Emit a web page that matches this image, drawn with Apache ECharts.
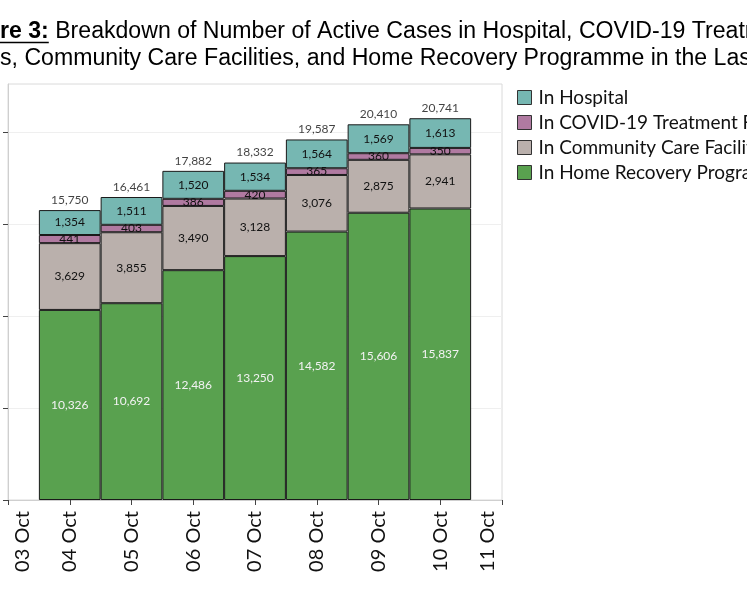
<!DOCTYPE html>
<html><head><meta charset="utf-8">
<script src="https://cdn.jsdelivr.net/npm/echarts@6/dist/echarts.min.js"></script>
<style>html,body{margin:0;padding:0;background:#fff}#c{width:747px;height:598px}</style>
</head><body><div id="c"></div>
<script>
const tickLabels = ['03 Oct','04 Oct','05 Oct','06 Oct','07 Oct','08 Oct','09 Oct','10 Oct','11 Oct'];
const dates = ['04 Oct','05 Oct','06 Oct','07 Oct','08 Oct','09 Oct','10 Oct'];
const inHospital = [1354,1511,1520,1534,1564,1569,1613];
const inTreatment = [441,403,386,420,365,360,350];
const inCommunity = [3629,3855,3490,3128,3076,2875,2941];
const inHome = [10326,10692,12486,13250,14582,15606,15837];
const totals = [15750,16461,17882,18332,19587,20410,20741];
const seriesNames = ['In Hospital','In COVID-19 Treatment Facilities','In Community Care Facilities','In Home Recovery Programme'];
const yTicks = [0,5000,10000,15000,20000];
const titleBold = 'Figure 3:';
const titleLine1 = 'Breakdown of Number of Active Cases in Hospital, COVID-19 Treatment';
const titleLine2 = 'Facilities, Community Care Facilities, and Home Recovery Programme in the Last';

const ctx = document.createElement('canvas').getContext('2d');
function tw(t, font){ ctx.font = font; return ctx.measureText(t).width; }
const TFS = 23.1, TFAM = 'Liberation Sans';
const TF = TFS + 'px "' + TFAM + '"', TFB = 'bold ' + TF;
const x1 = -tw('Figu', TFB);
const boldW = tw(titleBold, TFB);
const spaceW = tw(' ', TF);
const x2 = -tw('Facilitie', TF);

const fmt = v => Number(v).toLocaleString('en-US');
const pairs = arr => dates.map((d,i)=>[d, arr[i]]);

function barSeries(name, arr, color, labelColor){
  return {
    name, type:'bar', stack:'all', barWidth:'100%', data: pairs(arr),
    itemStyle:{color, borderColor:'#1a1a1a', borderWidth:1},
    label:{show:true, position:'inside', fontFamily:'Lato', fontSize:12, color:labelColor,
      formatter: p => fmt(p.value[1])}
  };
}

const chart = echarts.init(document.getElementById('c'), null, {renderer:'canvas'});
chart.setOption({
  animation:false,
  textStyle:{fontFamily:'Lato'},
  graphic:[
    {type:'text', x:x1, y:31.5, style:{text:titleBold, fontSize:TFS, fontFamily:TFAM, fontWeight:'bold', fill:'#000', verticalAlign:'middle'}},
    {type:'text', x:x1+boldW+spaceW, y:31.5, style:{text:titleLine1, fontSize:TFS, fontFamily:TFAM, fill:'#000', verticalAlign:'middle'}},
    {type:'line', shape:{x1:x1, y1:42.5, x2:x1+boldW, y2:42.5}, style:{stroke:'#000', lineWidth:1.6}},
    {type:'text', x:x2, y:58.5, style:{text:titleLine2, fontSize:TFS, fontFamily:TFAM, fill:'#000', verticalAlign:'middle'}}
  ],
  legend:{
    data:seriesNames, orient:'vertical', left:512, top:83,
    itemWidth:14, itemHeight:14, itemGap:6, icon:'rect',
    textStyle:{fontSize:19, color:'#111', fontFamily:'Lato', padding:[0,0,0,2]},
    itemStyle:{borderColor:'#333', borderWidth:1}
  },
  grid:{left:8, right:245, top:84, bottom:98, show:true, borderColor:'#dadada', borderWidth:1},
  xAxis:{
    type:'category', data:tickLabels, boundaryGap:false,
    axisLine:{lineStyle:{color:'#cfcfcf'}},
    axisTick:{show:true, length:5, lineStyle:{color:'#444'}},
    splitLine:{show:false},
    axisLabel:{
      rotate:90, margin:11, fontSize:20, color:'#111', interval:0, fontFamily:'Lato',
      formatter:(v,i)=> i===0 ? '{first|'+v+'}' : (i===tickLabels.length-1 ? '{last|'+v+'}' : v),
      rich:{
        first:{padding:[30,0,0,0], fontSize:20, color:'#111', fontFamily:'Lato'},
        last:{padding:[0,0,28,0], fontSize:20, color:'#111', fontFamily:'Lato'}
      }
    }
  },
  yAxis:{
    type:'value', min:0, max:22600, interval:5000,
    axisLine:{show:true, lineStyle:{color:'#cfcfcf'}},
    axisTick:{show:true, length:5, lineStyle:{color:'#444'}, customValues:yTicks},
    axisLabel:{show:false},
    splitLine:{lineStyle:{color:'#efefef'}}
  },
  series:[
    barSeries(seriesNames[3], inHome, '#59A14F', '#f2f2f2'),
    barSeries(seriesNames[2], inCommunity, '#BAB0AC', '#111'),
    barSeries(seriesNames[1], inTreatment, '#B07AA1', '#111'),
    barSeries(seriesNames[0], inHospital, '#76B7B2', '#111'),
    {
      type:'scatter', data:pairs(totals), symbolSize:0, silent:true, z:5,
      label:{show:true, position:'top', distance:4, fontFamily:'Lato', fontSize:12, color:'#111',
        formatter:p=>fmt(p.value[1])}
    }
  ]
});
</script></body></html>
